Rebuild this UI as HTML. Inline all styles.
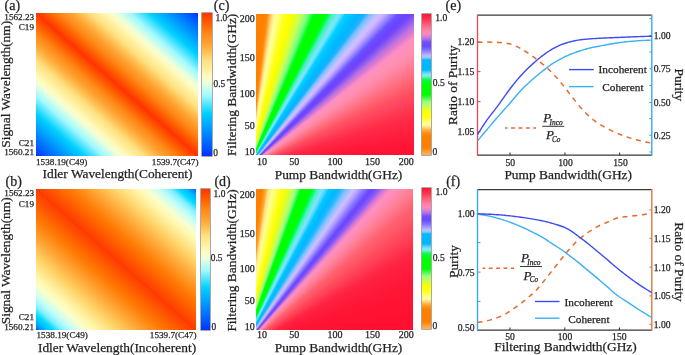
<!DOCTYPE html>
<html><head><meta charset="utf-8"><style>
html,body{margin:0;padding:0;background:#fff;}
body{width:685px;height:355px;overflow:hidden;position:relative;font-family:"Liberation Serif",serif;}
svg{position:absolute;left:0;top:0;}
svg text{font-family:"Liberation Serif",serif;fill:#231f20;stroke:#231f20;stroke-width:0.25px;}
svg{will-change:transform;}
</style></head><body>
<div style="position:absolute;left:36px;top:13px;width:162px;height:143px;background:linear-gradient(to top right, #0030ff 0.00%, #0050ff 2.50%, #0070ff 5.55%, #0090ff 8.65%, #00b0ff 11.75%, #00d0ff 15.00%, #50e4ff 18.00%, #a0f8ff 21.00%, #d0ffe8 24.00%, #f0ffd8 25.60%, #fffbc0 27.80%, #fff0a0 30.25%, #ffe080 33.50%, #ffbf50 36.50%, #ffa030 39.50%, #ff8a18 42.60%, #ff6000 46.30%, #ff3400 50.00%, #ff6000 53.70%, #ff8a18 57.40%, #ffa030 60.50%, #ffbf50 63.50%, #ffe080 66.50%, #fff0a0 69.75%, #fffbc0 72.20%, #f0ffd8 74.40%, #d0ffe8 76.00%, #a0f8ff 79.00%, #50e4ff 82.00%, #00d0ff 85.00%, #00b0ff 88.25%, #0090ff 91.35%, #0070ff 94.45%, #0050ff 97.50%, #0030ff 100.00%);"></div><div style="position:absolute;left:36px;top:189px;width:160px;height:140.5px;background:linear-gradient(to top right, #0050ff 0.00%, #0088ff 1.25%, #00b8ff 3.12%, #00dcff 5.62%, #80eeff 8.12%, #b0fbff 10.62%, #d0ffee 12.50%, #f8ffd0 15.62%, #fff8b0 18.75%, #ffe890 21.88%, #ffd870 25.00%, #ffc455 28.12%, #ffae40 31.25%, #ff9a28 34.38%, #ff8810 37.50%, #ff7a08 39.38%, #ff6a00 42.50%, #ff5500 45.62%, #ff4000 49.38%, #ff3800 50.00%, #ff4000 50.62%, #ff5500 54.38%, #ff6a00 57.50%, #ff7a08 60.62%, #ff8810 62.50%, #ff9a28 65.62%, #ffae40 68.75%, #ffc455 71.88%, #ffd870 75.00%, #ffe890 78.12%, #fff8b0 81.25%, #f8ffd0 84.38%, #d0ffee 87.50%, #b0fbff 89.38%, #80eeff 91.88%, #00dcff 94.38%, #00b8ff 96.88%, #0088ff 98.75%, #0050ff 100.00%);"></div><div style="position:absolute;left:202.4px;top:13.2px;width:9.3px;height:142.8px;background:linear-gradient(to bottom, #ff3400 0.0%, #ff6000 7.4%, #ff8a18 14.8%, #ffa030 21.0%, #ffbf50 27.0%, #ffe080 33.0%, #fff0a0 39.5%, #fffbc0 44.4%, #f0ffd8 48.8%, #d0ffe8 52.0%, #a0f8ff 58.0%, #50e4ff 64.0%, #00d0ff 70.0%, #00b0ff 76.5%, #0090ff 82.7%, #0070ff 88.9%, #0050ff 95.0%, #0030ff 100.0%);box-shadow:0 0 0 0.6px rgba(70,60,60,0.75);"></div><div style="position:absolute;left:200.7px;top:189.1px;width:9.0px;height:140.5px;background:linear-gradient(to bottom, #ff3400 0.0%, #ff6000 7.4%, #ff8a18 14.8%, #ffa030 21.0%, #ffbf50 27.0%, #ffe080 33.0%, #fff0a0 39.5%, #fffbc0 44.4%, #f0ffd8 48.8%, #d0ffe8 52.0%, #a0f8ff 58.0%, #50e4ff 64.0%, #00d0ff 70.0%, #00b0ff 76.5%, #0090ff 82.7%, #0070ff 88.9%, #0050ff 95.0%, #0030ff 100.0%);box-shadow:0 0 0 0.6px rgba(70,60,60,0.75);"></div><div style="position:absolute;left:256px;top:14px;width:158px;height:141px;background:conic-gradient(from 0deg at -7.2px 152.4px, #ff7f00 0deg, #ff8000 5.5deg, #ff8800 6.8deg, #ffa030 7.5deg, #ffc060 8.1deg, #ffe888 9.0deg, #ffff98 10.0deg, #ffff88 11.0deg, #ffff60 11.8deg, #ffff20 13.2deg, #ffff00 14.8deg, #f8ff00 16.0deg, #e0ff30 17.6deg, #c8ff50 18.9deg, #a0ff70 20.0deg, #80ff80 21.1deg, #40ff60 22.1deg, #10ff20 22.8deg, #00ff00 23.6deg, #00ff00 27.0deg, #00ff60 27.8deg, #40f0b0 28.6deg, #78e8f8 30.4deg, #70e0ff 31.2deg, #00d4ff 32.4deg, #00c0ff 34.0deg, #00b6ff 36.0deg, #20b0ff 37.4deg, #78c0ff 38.5deg, #a0c0ff 39.3deg, #c8c0ff 40.3deg, #d0bcff 41.1deg, #c0a8ff 42.0deg, #a088ff 42.9deg, #8070ff 43.7deg, #6a50ff 44.5deg, #6a48ff 45.5deg, #7040ff 46.3deg, #7848f8 47.1deg, #8858f4 47.9deg, #9c64ec 48.6deg, #c070e0 49.5deg, #d878d4 50.5deg, #f088c8 51.5deg, #ff8ec4 52.2deg, #ff90b8 53.5deg, #ff90b0 54.8deg, #ff88a8 56.7deg, #ff8098 58.0deg, #ff7890 59.3deg, #ff7080 60.6deg, #ff6070 63.1deg, #ff5060 65.4deg, #ff4460 67.9deg, #ff3a50 70deg, #ff2a48 73.3deg, #ff1838 80.8deg, #ff1030 86deg, #ff1030 360deg);"></div><div style="position:absolute;left:256px;top:189px;width:157px;height:140.5px;background:conic-gradient(from 0deg at -13.5px 159px, #ff8000 0deg, #ff8000 6.8deg, #ff9810 7.8deg, #ffb040 8.5deg, #ffe088 9.2deg, #ffff90 10.7deg, #ffff40 12.7deg, #ffff00 14.4deg, #f0ff10 15.5deg, #d0ff40 16.9deg, #b0ff70 18.2deg, #80ff80 19.0deg, #00ff20 20.1deg, #00ff00 20.6deg, #00ff00 23.6deg, #00ff80 24.5deg, #50f0c0 25.3deg, #80e4ff 26.8deg, #40d0ff 28.0deg, #00c8ff 28.6deg, #00b8ff 30.5deg, #20b8ff 31.8deg, #80c0ff 33.2deg, #d0c0ff 35.0deg, #b0a0ff 36.3deg, #8c78ff 37.4deg, #6a48ff 38.9deg, #7048ff 39.6deg, #9060f0 40.8deg, #c070e0 41.5deg, #e880cc 42.3deg, #ff90c0 43.2deg, #ff8cb8 44.2deg, #ff88a8 45.5deg, #ff8094 46.8deg, #ff7890 47.7deg, #ff6c7c 49.1deg, #ff6070 50.5deg, #ff5866 52.5deg, #ff4a5c 54.5deg, #ff4058 56.6deg, #ff2a45 60deg, #ff2040 62.5deg, #ff1535 70deg, #ff1030 80deg, #ff1030 360deg);"></div><div style="position:absolute;left:422.1px;top:14.1px;width:8.9px;height:141px;background:linear-gradient(to bottom, #ff1535 0.0%, #ff2040 1.4%, #ff3850 4.3%, #ff6080 7.8%, #ff80a0 11.3%, #ff88c0 13.5%, #e080d0 15.6%, #b070e8 17.7%, #7050ff 19.9%, #6a48ff 22.7%, #8070ff 25.5%, #a098ff 27.7%, #c0c0ff 29.8%, #80c8ff 31.2%, #00b8ff 32.6%, #00b8ff 39.7%, #40d0ff 41.1%, #80e0ff 42.6%, #80f0e0 44.0%, #40f0a0 45.4%, #00ff40 46.8%, #00ff00 50.4%, #00ff00 57.4%, #40ff40 59.6%, #a0ff80 62.4%, #d0ff40 66.7%, #ffff00 69.5%, #ffff20 73.8%, #ffff80 76.6%, #ffffa0 78.7%, #ffe080 80.1%, #ffb040 82.3%, #ff9010 84.4%, #ff8000 86.5%, #ff8000 95.0%, #ff9020 96.5%, #ffa040 97.9%, #ffb060 100.0%);box-shadow:0 0 0 0.6px rgba(70,60,60,0.75);"></div><div style="position:absolute;left:422.1px;top:187.5px;width:8.9px;height:141px;background:linear-gradient(to bottom, #ff1535 0.0%, #ff2040 1.4%, #ff3850 4.3%, #ff6080 7.8%, #ff80a0 11.3%, #ff88c0 13.5%, #e080d0 15.6%, #b070e8 17.7%, #7050ff 19.9%, #6a48ff 22.7%, #8070ff 25.5%, #a098ff 27.7%, #c0c0ff 29.8%, #80c8ff 31.2%, #00b8ff 32.6%, #00b8ff 39.7%, #40d0ff 41.1%, #80e0ff 42.6%, #80f0e0 44.0%, #40f0a0 45.4%, #00ff40 46.8%, #00ff00 50.4%, #00ff00 57.4%, #40ff40 59.6%, #a0ff80 62.4%, #d0ff40 66.7%, #ffff00 69.5%, #ffff20 73.8%, #ffff80 76.6%, #ffffa0 78.7%, #ffe080 80.1%, #ffb040 82.3%, #ff9010 84.4%, #ff8000 86.5%, #ff8000 95.0%, #ff9020 96.5%, #ffa040 97.9%, #ffb060 100.0%);box-shadow:0 0 0 0.6px rgba(70,60,60,0.75);"></div>
<svg width="685" height="355" viewBox="0 0 685 355" xmlns="http://www.w3.org/2000/svg">
<text transform="translate(4.6,9.6) scale(1,1.0)" font-size="14" text-anchor="start" >(a)</text>
<text transform="translate(5.6,185.5) scale(1,1.0)" font-size="14" text-anchor="start" >(b)</text>
<text transform="translate(213.8,9.5) scale(1,1.0)" font-size="14" text-anchor="start" >(c)</text>
<text transform="translate(214.4,185.5) scale(1,1.0)" font-size="14" text-anchor="start" >(d)</text>
<text transform="translate(445.6,10.3) scale(1,1.0)" font-size="14" text-anchor="start" >(e)</text>
<text transform="translate(446.2,185.7) scale(1,1.0)" font-size="14" text-anchor="start" >(f)</text>
<text transform="translate(34.2,20.0) scale(1,1.0)" font-size="9.2" text-anchor="end" >1562.23</text>
<text transform="translate(34.0,30.0) scale(1,1.0)" font-size="9.2" text-anchor="end" >C19</text>
<text transform="translate(34.0,145.5) scale(1,1.0)" font-size="9.2" text-anchor="end" >C21</text>
<text transform="translate(34.0,155.3) scale(1,1.0)" font-size="9.2" text-anchor="end" >1560.21</text>
<text transform="translate(36.0,165.3) scale(1,1.0)" font-size="9.2" text-anchor="start" >1538.19(C49)</text>
<text transform="translate(198.5,165.3) scale(1,1.0)" font-size="9.2" text-anchor="end" >1539.7(C47)</text>
<text transform="translate(117.5,178.4) scale(1,1.0)" font-size="13.4" text-anchor="middle" >Idler Wavelength(Coherent)</text>
<text transform="translate(9.8,84.3) rotate(-90)" font-size="13.4" text-anchor="middle">Signal Wavelength(nm)</text>
<text transform="translate(215.5,21.0) scale(1,1.0)" font-size="9.4" text-anchor="start" >1.0</text>
<text transform="translate(213.5,86.5) scale(1,1.0)" font-size="9.4" text-anchor="start" >0.5</text>
<text transform="translate(213.3,156.0) scale(1,1.0)" font-size="9.4" text-anchor="start" >0</text>
<text transform="translate(34.2,195.8) scale(1,1.0)" font-size="9.2" text-anchor="end" >1562.23</text>
<text transform="translate(34.0,206.5) scale(1,1.0)" font-size="9.2" text-anchor="end" >C19</text>
<text transform="translate(34.0,319.8) scale(1,1.0)" font-size="9.2" text-anchor="end" >C21</text>
<text transform="translate(34.0,330.4) scale(1,1.0)" font-size="9.2" text-anchor="end" >1560.21</text>
<text transform="translate(36.5,337.7) scale(1,1.0)" font-size="9.2" text-anchor="start" >1538.19(C49)</text>
<text transform="translate(196.5,337.7) scale(1,1.0)" font-size="9.2" text-anchor="end" >1539.7(C47)</text>
<text transform="translate(117,351.8) scale(1,1.0)" font-size="13.4" text-anchor="middle" >Idler Wavelength(Incoherent)</text>
<text transform="translate(9.8,260.8) rotate(-90)" font-size="13.4" text-anchor="middle">Signal Wavelength(nm)</text>
<text transform="translate(213.6,197.3) scale(1,1.0)" font-size="9.4" text-anchor="start" >1.0</text>
<text transform="translate(210.8,261.4) scale(1,1.0)" font-size="9.4" text-anchor="start" >0.5</text>
<text transform="translate(211.5,329.5) scale(1,1.0)" font-size="9.4" text-anchor="start" >0</text>
<text transform="translate(254.7,22.4) scale(1,1.0)" font-size="10" text-anchor="end" >200</text>
<text transform="translate(254.7,61.199999999999996) scale(1,1.0)" font-size="10" text-anchor="end" >150</text>
<text transform="translate(254.7,96.5) scale(1,1.0)" font-size="10" text-anchor="end" >100</text>
<text transform="translate(254.7,128.5) scale(1,1.0)" font-size="10" text-anchor="end" >50</text>
<text transform="translate(254.7,155.1) scale(1,1.0)" font-size="10" text-anchor="end" >10</text>
<text transform="translate(262,165.1) scale(1,1.0)" font-size="10" text-anchor="middle" >10</text>
<text transform="translate(294.2,165.1) scale(1,1.0)" font-size="10" text-anchor="middle" >50</text>
<text transform="translate(335,165.1) scale(1,1.0)" font-size="10" text-anchor="middle" >100</text>
<text transform="translate(372.5,165.1) scale(1,1.0)" font-size="10" text-anchor="middle" >150</text>
<text transform="translate(406.3,165.1) scale(1,1.0)" font-size="10" text-anchor="middle" >200</text>
<text transform="translate(338.5,179.3) scale(1,1.0)" font-size="13.4" text-anchor="middle" >Pump Bandwidth(GHz)</text>
<text transform="translate(236.0,84.9) rotate(-90)" font-size="13.4" text-anchor="middle">Filtering Bandwidth(GHz)</text>
<text transform="translate(254.7,197.9) scale(1,1.0)" font-size="10" text-anchor="end" >200</text>
<text transform="translate(254.7,236.9) scale(1,1.0)" font-size="10" text-anchor="end" >150</text>
<text transform="translate(254.7,272.4) scale(1,1.0)" font-size="10" text-anchor="end" >100</text>
<text transform="translate(254.7,304.09999999999997) scale(1,1.0)" font-size="10" text-anchor="end" >50</text>
<text transform="translate(254.7,330.09999999999997) scale(1,1.0)" font-size="10" text-anchor="end" >10</text>
<text transform="translate(262,338.4) scale(1,1.0)" font-size="10" text-anchor="middle" >10</text>
<text transform="translate(294.2,338.4) scale(1,1.0)" font-size="10" text-anchor="middle" >50</text>
<text transform="translate(335,338.4) scale(1,1.0)" font-size="10" text-anchor="middle" >100</text>
<text transform="translate(372.5,338.4) scale(1,1.0)" font-size="10" text-anchor="middle" >150</text>
<text transform="translate(406.3,338.4) scale(1,1.0)" font-size="10" text-anchor="middle" >200</text>
<text transform="translate(338.5,351.9) scale(1,1.0)" font-size="13.4" text-anchor="middle" >Pump Bandwidth(GHz)</text>
<text transform="translate(236.0,260.4) rotate(-90)" font-size="13.4" text-anchor="middle">Filtering Bandwidth(GHz)</text>
<text transform="translate(435.2,20.8) scale(1,1.0)" font-size="9.6" text-anchor="start" >1.0</text>
<text transform="translate(432.8,86.0) scale(1,1.0)" font-size="9.6" text-anchor="start" >0.5</text>
<text transform="translate(432.6,155.2) scale(1,1.0)" font-size="9.6" text-anchor="start" >0</text>
<text transform="translate(435.5,194.6) scale(1,1.0)" font-size="9.6" text-anchor="start" >1.0</text>
<text transform="translate(432.8,261.3) scale(1,1.0)" font-size="9.6" text-anchor="start" >0.5</text>
<text transform="translate(432.6,328.7) scale(1,1.0)" font-size="9.6" text-anchor="start" >0</text>
<line x1="477.5" y1="15.2" x2="651.8" y2="15.2" stroke="#383838" stroke-width="1.3"/>
<line x1="477.5" y1="155.2" x2="651.8" y2="155.2" stroke="#383838" stroke-width="1.3"/>
<line x1="510" y1="155.2" x2="510" y2="152.6" stroke="#383838" stroke-width="1.1"/>
<line x1="565" y1="155.2" x2="565" y2="152.6" stroke="#383838" stroke-width="1.1"/>
<line x1="619.6" y1="155.2" x2="619.6" y2="152.6" stroke="#383838" stroke-width="1.1"/>
<line x1="477.5" y1="14.6" x2="477.5" y2="155.79999999999998" stroke="#e5484f" stroke-width="1.3"/>
<line x1="477.5" y1="42.0" x2="480.5" y2="42.0" stroke="#e5484f" stroke-width="1.1"/>
<line x1="477.5" y1="71.6" x2="480.5" y2="71.6" stroke="#e5484f" stroke-width="1.1"/>
<line x1="477.5" y1="101.6" x2="480.5" y2="101.6" stroke="#e5484f" stroke-width="1.1"/>
<line x1="477.5" y1="131.8" x2="480.5" y2="131.8" stroke="#e5484f" stroke-width="1.1"/>
<line x1="651.8" y1="14.6" x2="651.8" y2="155.79999999999998" stroke="#35aaf3" stroke-width="1.4"/>
<line x1="651.8" y1="18.6" x2="649.3" y2="18.6" stroke="#35aaf3" stroke-width="1.1"/>
<line x1="651.8" y1="35.6" x2="649.3" y2="35.6" stroke="#35aaf3" stroke-width="1.1"/>
<line x1="651.8" y1="52.0" x2="649.3" y2="52.0" stroke="#35aaf3" stroke-width="1.1"/>
<line x1="651.8" y1="68.8" x2="649.3" y2="68.8" stroke="#35aaf3" stroke-width="1.1"/>
<line x1="651.8" y1="85.5" x2="649.3" y2="85.5" stroke="#35aaf3" stroke-width="1.1"/>
<line x1="651.8" y1="102.4" x2="649.3" y2="102.4" stroke="#35aaf3" stroke-width="1.1"/>
<line x1="651.8" y1="118.6" x2="649.3" y2="118.6" stroke="#35aaf3" stroke-width="1.1"/>
<line x1="651.8" y1="135.3" x2="649.3" y2="135.3" stroke="#35aaf3" stroke-width="1.1"/>
<line x1="651.8" y1="152.0" x2="649.3" y2="152.0" stroke="#35aaf3" stroke-width="1.1"/>
<text transform="translate(474.3,45.3) scale(1,1.0)" font-size="9.6" text-anchor="end" >1.20</text>
<text transform="translate(474.3,74.89999999999999) scale(1,1.0)" font-size="9.6" text-anchor="end" >1.15</text>
<text transform="translate(474.3,104.89999999999999) scale(1,1.0)" font-size="9.6" text-anchor="end" >1.10</text>
<text transform="translate(474.3,135.10000000000002) scale(1,1.0)" font-size="9.6" text-anchor="end" >1.05</text>
<text transform="translate(653.8,38.9) scale(1,1.0)" font-size="9.6" text-anchor="start" >1.00</text>
<text transform="translate(653.8,72.1) scale(1,1.0)" font-size="9.6" text-anchor="start" >0.75</text>
<text transform="translate(653.8,105.7) scale(1,1.0)" font-size="9.6" text-anchor="start" >0.50</text>
<text transform="translate(653.8,138.60000000000002) scale(1,1.0)" font-size="9.6" text-anchor="start" >0.25</text>
<text transform="translate(510.3,166.2) scale(1,1.0)" font-size="9.6" text-anchor="middle" >50</text>
<text transform="translate(565.5,166.2) scale(1,1.0)" font-size="9.6" text-anchor="middle" >100</text>
<text transform="translate(620.5,166.2) scale(1,1.0)" font-size="9.6" text-anchor="middle" >150</text>
<text transform="translate(568.2,179.4) scale(1,1.0)" font-size="13.4" text-anchor="middle" >Pump Bandwidth(GHz)</text>
<text transform="translate(456.6,85.2) rotate(-90)" font-size="13.4" text-anchor="middle">Ratio of Purity</text>
<text transform="translate(675.4,84.9) rotate(90)" font-size="13.4" text-anchor="middle">Purity</text>
<path d="M477.5,42.30 L479.0,42.24 L480.5,42.19 L482.0,42.16 L483.5,42.13 L485.0,42.11 L486.5,42.10 L488.0,42.10 L489.5,42.11 L491.0,42.14 L492.5,42.18 L494.0,42.24 L495.5,42.30 L497.0,42.36 L498.5,42.44 L500.0,42.53 L501.5,42.66 L503.0,42.81 L504.5,42.99 L506.0,43.20 L507.5,43.43 L509.0,43.70 L510.5,44.07 L512.0,44.56 L513.5,45.14 L515.0,45.77 L516.5,46.42 L518.0,47.11 L519.5,47.89 L521.0,48.75 L522.5,49.65 L524.0,50.58 L525.5,51.51 L527.0,52.47 L528.5,53.47 L530.0,54.49 L531.5,55.54 L533.0,56.62 L534.5,57.71 L536.0,58.84 L537.5,60.00 L539.0,61.18 L540.5,62.39 L542.0,63.63 L543.5,64.89 L545.0,66.18 L546.5,67.49 L548.0,68.84 L549.5,70.24 L551.0,71.70 L552.5,73.21 L554.0,74.79 L555.5,76.41 L557.0,78.09 L558.5,79.80 L560.0,81.56 L561.5,83.40 L563.0,85.30 L564.5,87.22 L566.0,89.13 L567.5,91.05 L569.0,92.99 L570.5,94.93 L572.0,96.85 L573.5,98.73 L575.0,100.63 L576.5,102.52 L578.0,104.39 L579.5,106.21 L581.0,107.95 L582.5,109.60 L584.0,111.18 L585.5,112.72 L587.0,114.22 L588.5,115.66 L590.0,117.04 L591.5,118.35 L593.0,119.58 L594.5,120.72 L596.0,121.80 L597.5,122.81 L599.0,123.78 L600.5,124.70 L602.0,125.59 L603.5,126.46 L605.0,127.30 L606.5,128.12 L608.0,128.92 L609.5,129.70 L611.0,130.45 L612.5,131.18 L614.0,131.88 L615.5,132.55 L617.0,133.20 L618.5,133.83 L620.0,134.44 L621.5,135.02 L623.0,135.59 L624.5,136.14 L626.0,136.66 L627.5,137.17 L629.0,137.65 L630.5,138.12 L632.0,138.56 L633.5,139.00 L635.0,139.41 L636.5,139.82 L638.0,140.20 L639.5,140.57 L641.0,140.93 L642.5,141.28 L644.0,141.63 L645.5,141.96 L647.0,142.27 L648.5,142.58 L650.0,142.87 L651.5,143.15 L651.8,143.20" fill="none" stroke="#e8692d" stroke-width="1.5" stroke-dasharray="5 4.7"/>
<path d="M477.5,140.90 L479.0,139.11 L480.5,137.33 L482.0,135.54 L483.5,133.76 L485.0,131.98 L486.5,130.19 L488.0,128.41 L489.5,126.62 L491.0,124.84 L492.5,123.06 L494.0,121.30 L495.5,119.56 L497.0,117.83 L498.5,116.11 L500.0,114.40 L501.5,112.69 L503.0,110.99 L504.5,109.29 L506.0,107.60 L507.5,105.91 L509.0,104.21 L510.5,102.50 L512.0,100.79 L513.5,99.05 L515.0,97.26 L516.5,95.46 L518.0,93.67 L519.5,91.94 L521.0,90.30 L522.5,88.76 L524.0,87.26 L525.5,85.81 L527.0,84.39 L528.5,83.01 L530.0,81.65 L531.5,80.32 L533.0,79.00 L534.5,77.69 L536.0,76.42 L537.5,75.18 L539.0,73.95 L540.5,72.75 L542.0,71.56 L543.5,70.37 L545.0,69.17 L546.5,67.99 L548.0,66.84 L549.5,65.74 L551.0,64.70 L552.5,63.71 L554.0,62.77 L555.5,61.86 L557.0,60.98 L558.5,60.13 L560.0,59.31 L561.5,58.50 L563.0,57.71 L564.5,56.96 L566.0,56.23 L567.5,55.54 L569.0,54.89 L570.5,54.27 L572.0,53.68 L573.5,53.11 L575.0,52.56 L576.5,52.03 L578.0,51.52 L579.5,51.02 L581.0,50.55 L582.5,50.09 L584.0,49.65 L585.5,49.21 L587.0,48.78 L588.5,48.37 L590.0,47.97 L591.5,47.61 L593.0,47.29 L594.5,46.99 L596.0,46.72 L597.5,46.45 L599.0,46.19 L600.5,45.91 L602.0,45.62 L603.5,45.32 L605.0,45.03 L606.5,44.75 L608.0,44.47 L609.5,44.21 L611.0,43.95 L612.5,43.69 L614.0,43.45 L615.5,43.21 L617.0,42.99 L618.5,42.77 L620.0,42.56 L621.5,42.36 L623.0,42.17 L624.5,41.99 L626.0,41.82 L627.5,41.67 L629.0,41.52 L630.5,41.38 L632.0,41.25 L633.5,41.12 L635.0,41.00 L636.5,40.88 L638.0,40.77 L639.5,40.66 L641.0,40.57 L642.5,40.48 L644.0,40.41 L645.5,40.33 L647.0,40.27 L648.5,40.21 L650.0,40.15 L651.5,40.11 L651.8,40.10" fill="none" stroke="#38b2f4" stroke-width="1.4"/>
<path d="M477.5,134.60 L479.0,132.16 L480.5,129.76 L482.0,127.42 L483.5,125.13 L485.0,122.89 L486.5,120.71 L488.0,118.61 L489.5,116.59 L491.0,114.63 L492.5,112.72 L494.0,110.82 L495.5,108.90 L497.0,106.94 L498.5,104.92 L500.0,102.83 L501.5,100.69 L503.0,98.54 L504.5,96.40 L506.0,94.30 L507.5,92.26 L509.0,90.25 L510.5,88.26 L512.0,86.30 L513.5,84.37 L515.0,82.50 L516.5,80.67 L518.0,78.91 L519.5,77.20 L521.0,75.54 L522.5,73.92 L524.0,72.34 L525.5,70.80 L527.0,69.29 L528.5,67.81 L530.0,66.38 L531.5,64.98 L533.0,63.61 L534.5,62.29 L536.0,60.99 L537.5,59.73 L539.0,58.51 L540.5,57.31 L542.0,56.15 L543.5,55.01 L545.0,53.89 L546.5,52.80 L548.0,51.74 L549.5,50.75 L551.0,49.82 L552.5,48.94 L554.0,48.10 L555.5,47.31 L557.0,46.56 L558.5,45.86 L560.0,45.22 L561.5,44.61 L563.0,44.03 L564.5,43.49 L566.0,42.99 L567.5,42.53 L569.0,42.11 L570.5,41.71 L572.0,41.34 L573.5,40.99 L575.0,40.69 L576.5,40.41 L578.0,40.16 L579.5,39.92 L581.0,39.71 L582.5,39.52 L584.0,39.35 L585.5,39.21 L587.0,39.08 L588.5,38.97 L590.0,38.86 L591.5,38.76 L593.0,38.67 L594.5,38.58 L596.0,38.49 L597.5,38.40 L599.0,38.31 L600.5,38.23 L602.0,38.15 L603.5,38.07 L605.0,38.00 L606.5,37.93 L608.0,37.87 L609.5,37.80 L611.0,37.74 L612.5,37.68 L614.0,37.62 L615.5,37.56 L617.0,37.50 L618.5,37.44 L620.0,37.37 L621.5,37.31 L623.0,37.25 L624.5,37.18 L626.0,37.12 L627.5,37.06 L629.0,37.00 L630.5,36.93 L632.0,36.88 L633.5,36.82 L635.0,36.76 L636.5,36.71 L638.0,36.65 L639.5,36.60 L641.0,36.55 L642.5,36.50 L644.0,36.45 L645.5,36.40 L647.0,36.35 L648.5,36.30 L650.0,36.25 L651.5,36.21 L651.8,36.20" fill="none" stroke="#3d4cf2" stroke-width="1.4"/>
<line x1="569" y1="69.6" x2="593.7" y2="69.6" stroke="#3d4cf2" stroke-width="1.4"/>
<line x1="569" y1="86.6" x2="593.7" y2="86.6" stroke="#38b2f4" stroke-width="1.4"/>
<text transform="translate(598.6,73.3) scale(1,1.0)" font-size="11.3" text-anchor="start" >Incoherent</text>
<text transform="translate(602.2,90.8) scale(1,1.0)" font-size="11.3" text-anchor="start" >Coherent</text>
<line x1="505" y1="128" x2="536" y2="128" stroke="#e8692d" stroke-width="1.4" stroke-dasharray="3.9 3.5" stroke-dashoffset="1.3"/>
<line x1="542.3" y1="126.3" x2="564.3" y2="126.3" stroke="#231f20" stroke-width="0.9"/><text x="543.1999999999999" y="122.1" font-size="13" font-style="italic">P<tspan font-size="7.4" dx="-1.6" dy="2.7">Inco</tspan></text><text x="545.9" y="139.4" font-size="13" font-style="italic">P<tspan font-size="7.2" dx="-1.8" dy="2.4">Co</tspan></text>
<line x1="477.5" y1="189.7" x2="651.8" y2="189.7" stroke="#383838" stroke-width="1.3"/>
<line x1="477.5" y1="330.1" x2="651.8" y2="330.1" stroke="#383838" stroke-width="1.3"/>
<line x1="510" y1="330.1" x2="510" y2="327.5" stroke="#383838" stroke-width="1.1"/>
<line x1="564.8" y1="330.1" x2="564.8" y2="327.5" stroke="#383838" stroke-width="1.1"/>
<line x1="619.4" y1="330.1" x2="619.4" y2="327.5" stroke="#383838" stroke-width="1.1"/>
<line x1="477.5" y1="189.1" x2="477.5" y2="330.70000000000005" stroke="#35aaf3" stroke-width="1.4"/>
<line x1="477.5" y1="214.1" x2="480.5" y2="214.1" stroke="#35aaf3" stroke-width="1.1"/>
<line x1="477.5" y1="242.6" x2="480.5" y2="242.6" stroke="#35aaf3" stroke-width="1.1"/>
<line x1="477.5" y1="272.1" x2="480.5" y2="272.1" stroke="#35aaf3" stroke-width="1.1"/>
<line x1="477.5" y1="301.4" x2="480.5" y2="301.4" stroke="#35aaf3" stroke-width="1.1"/>
<line x1="651.8" y1="189.1" x2="651.8" y2="330.70000000000005" stroke="#d97a42" stroke-width="1.4"/>
<line x1="651.8" y1="209.9" x2="649.3" y2="209.9" stroke="#d97a42" stroke-width="1.1"/>
<line x1="651.8" y1="238.3" x2="649.3" y2="238.3" stroke="#d97a42" stroke-width="1.1"/>
<line x1="651.8" y1="267.2" x2="649.3" y2="267.2" stroke="#d97a42" stroke-width="1.1"/>
<line x1="651.8" y1="295.9" x2="649.3" y2="295.9" stroke="#d97a42" stroke-width="1.1"/>
<line x1="651.8" y1="324.3" x2="649.3" y2="324.3" stroke="#d97a42" stroke-width="1.1"/>
<text transform="translate(474.6,217.4) scale(1,1.0)" font-size="9.6" text-anchor="end" >1.00</text>
<text transform="translate(474.6,275.6) scale(1,1.0)" font-size="9.6" text-anchor="end" >0.75</text>
<text transform="translate(474.6,331.2) scale(1,1.0)" font-size="9.6" text-anchor="end" >0.50</text>
<text transform="translate(653.8,213.20000000000002) scale(1,1.0)" font-size="9.6" text-anchor="start" >1.20</text>
<text transform="translate(653.8,242.0) scale(1,1.0)" font-size="9.6" text-anchor="start" >1.15</text>
<text transform="translate(653.8,270.6) scale(1,1.0)" font-size="9.6" text-anchor="start" >1.10</text>
<text transform="translate(653.8,299.2) scale(1,1.0)" font-size="9.6" text-anchor="start" >1.05</text>
<text transform="translate(653.8,327.5) scale(1,1.0)" font-size="9.6" text-anchor="start" >1.00</text>
<text transform="translate(510,340.2) scale(1,1.0)" font-size="9.6" text-anchor="middle" >50</text>
<text transform="translate(565,340.2) scale(1,1.0)" font-size="9.6" text-anchor="middle" >100</text>
<text transform="translate(619.3,340.2) scale(1,1.0)" font-size="9.6" text-anchor="middle" >150</text>
<text transform="translate(565.5,351.4) scale(1,1.0)" font-size="13.4" text-anchor="middle" >Filtering Bandwidth(GHz)</text>
<text transform="translate(457.6,261.5) rotate(-90)" font-size="13.4" text-anchor="middle">Purity</text>
<text transform="translate(675.4,262) rotate(90)" font-size="13.4" text-anchor="middle">Ratio of Purity</text>
<path d="M477.6,322.60 L479.1,322.34 L480.6,322.07 L482.1,321.78 L483.6,321.48 L485.1,321.17 L486.6,320.85 L488.1,320.50 L489.6,320.13 L491.1,319.72 L492.6,319.27 L494.1,318.78 L495.6,318.25 L497.1,317.70 L498.6,317.12 L500.1,316.50 L501.6,315.84 L503.1,315.14 L504.6,314.39 L506.1,313.57 L507.6,312.69 L509.1,311.75 L510.6,310.79 L512.1,309.81 L513.6,308.79 L515.1,307.73 L516.6,306.65 L518.1,305.55 L519.6,304.43 L521.1,303.28 L522.6,302.12 L524.1,300.92 L525.6,299.70 L527.1,298.45 L528.6,297.19 L530.1,295.91 L531.6,294.59 L533.1,293.23 L534.6,291.80 L536.1,290.28 L537.6,288.66 L539.1,286.93 L540.6,285.15 L542.1,283.33 L543.6,281.51 L545.1,279.65 L546.6,277.74 L548.1,275.82 L549.6,273.88 L551.1,271.97 L552.6,270.08 L554.1,268.20 L555.6,266.31 L557.1,264.42 L558.6,262.53 L560.1,260.61 L561.6,258.69 L563.1,256.77 L564.6,254.85 L566.1,252.96 L567.6,251.19 L569.1,249.49 L570.6,247.82 L572.1,246.13 L573.6,244.46 L575.1,242.90 L576.6,241.48 L578.1,240.14 L579.6,238.86 L581.1,237.61 L582.6,236.40 L584.1,235.23 L585.6,234.11 L587.1,233.03 L588.6,232.00 L590.1,231.01 L591.6,230.05 L593.1,229.14 L594.6,228.26 L596.1,227.40 L597.6,226.57 L599.1,225.77 L600.6,225.02 L602.1,224.31 L603.6,223.66 L605.1,223.07 L606.6,222.49 L608.1,221.92 L609.6,221.33 L611.1,220.69 L612.6,219.94 L614.1,219.17 L615.6,218.49 L617.1,218.00 L618.6,217.68 L620.1,217.42 L621.6,217.20 L623.1,217.00 L624.6,216.81 L626.1,216.64 L627.6,216.49 L629.1,216.35 L630.6,216.20 L632.1,216.03 L633.6,215.86 L635.1,215.67 L636.6,215.48 L638.1,215.27 L639.6,215.07 L641.1,214.86 L642.6,214.64 L644.1,214.42 L645.6,214.19 L647.1,213.96 L648.6,213.72 L650.1,213.48 L651.6,213.23 L651.8,213.20" fill="none" stroke="#e8692d" stroke-width="1.5" stroke-dasharray="5 4.7"/>
<path d="M477.5,214.00 L479.0,214.21 L480.5,214.44 L482.0,214.69 L483.5,214.95 L485.0,215.23 L486.5,215.52 L488.0,215.84 L489.5,216.18 L491.0,216.53 L492.5,216.90 L494.0,217.28 L495.5,217.66 L497.0,218.06 L498.5,218.47 L500.0,218.90 L501.5,219.35 L503.0,219.83 L504.5,220.32 L506.0,220.84 L507.5,221.37 L509.0,221.91 L510.5,222.46 L512.0,223.02 L513.5,223.59 L515.0,224.18 L516.5,224.78 L518.0,225.40 L519.5,226.03 L521.0,226.67 L522.5,227.33 L524.0,228.01 L525.5,228.69 L527.0,229.39 L528.5,230.11 L530.0,230.85 L531.5,231.60 L533.0,232.37 L534.5,233.14 L536.0,233.92 L537.5,234.69 L539.0,235.48 L540.5,236.28 L542.0,237.11 L543.5,237.98 L545.0,238.92 L546.5,239.92 L548.0,240.95 L549.5,241.97 L551.0,242.95 L552.5,243.90 L554.0,244.85 L555.5,245.80 L557.0,246.77 L558.5,247.75 L560.0,248.74 L561.5,249.74 L563.0,250.77 L564.5,251.83 L566.0,252.95 L567.5,254.09 L569.0,255.22 L570.5,256.34 L572.0,257.46 L573.5,258.60 L575.0,259.77 L576.5,260.95 L578.0,262.16 L579.5,263.39 L581.0,264.64 L582.5,265.90 L584.0,267.16 L585.5,268.42 L587.0,269.66 L588.5,270.90 L590.0,272.14 L591.5,273.38 L593.0,274.63 L594.5,275.88 L596.0,277.14 L597.5,278.40 L599.0,279.66 L600.5,280.93 L602.0,282.20 L603.5,283.48 L605.0,284.76 L606.5,286.04 L608.0,287.37 L609.5,288.72 L611.0,290.07 L612.5,291.42 L614.0,292.72 L615.5,293.96 L616.7,294.90 L617.0,295.13 L618.5,296.21 L620.0,297.25 L621.5,298.24 L623.0,299.22 L624.5,300.18 L626.0,301.15 L627.5,302.13 L629.0,303.13 L630.5,304.13 L632.0,305.13 L633.5,306.13 L635.0,307.12 L636.5,308.10 L638.0,309.06 L639.5,310.02 L641.0,310.97 L642.5,311.91 L644.0,312.85 L645.5,313.78 L647.0,314.70 L648.5,315.62 L650.0,316.52 L651.5,317.42 L651.8,317.60" fill="none" stroke="#38b2f4" stroke-width="1.4"/>
<path d="M477.5,213.90 L479.0,213.92 L480.5,213.95 L482.0,213.99 L483.5,214.03 L485.0,214.07 L486.5,214.12 L488.0,214.18 L489.5,214.25 L491.0,214.32 L492.5,214.41 L494.0,214.50 L495.5,214.59 L497.0,214.69 L498.5,214.79 L500.0,214.91 L501.5,215.03 L503.0,215.16 L504.5,215.30 L506.0,215.44 L507.5,215.59 L509.0,215.75 L510.5,215.91 L512.0,216.09 L513.5,216.27 L515.0,216.45 L516.5,216.64 L518.0,216.83 L519.5,217.04 L521.0,217.25 L522.5,217.46 L524.0,217.68 L525.5,217.90 L527.0,218.13 L528.5,218.36 L530.0,218.60 L531.5,218.85 L533.0,219.10 L534.5,219.35 L536.0,219.62 L537.5,219.89 L539.0,220.17 L540.5,220.46 L542.0,220.77 L543.5,221.09 L545.0,221.43 L546.5,221.80 L548.0,222.19 L549.5,222.59 L551.0,223.00 L552.5,223.42 L554.0,223.86 L555.5,224.31 L557.0,224.78 L558.5,225.26 L560.0,225.75 L561.5,226.25 L563.0,226.78 L564.5,227.37 L566.0,228.03 L567.5,228.81 L569.0,229.68 L570.5,230.63 L572.0,231.60 L573.5,232.62 L575.0,233.71 L576.5,234.85 L578.0,236.01 L579.5,237.15 L581.0,238.27 L582.5,239.39 L584.0,240.52 L585.5,241.67 L587.0,242.86 L588.5,244.07 L590.0,245.31 L591.5,246.57 L593.0,247.83 L594.5,249.08 L596.0,250.33 L597.5,251.57 L599.0,252.81 L600.5,254.04 L602.0,255.28 L603.5,256.52 L605.0,257.78 L606.5,259.04 L608.0,260.32 L609.5,261.62 L611.0,262.93 L612.5,264.24 L614.0,265.53 L615.5,266.81 L616.7,267.80 L617.0,268.05 L618.5,269.26 L620.0,270.46 L621.5,271.65 L623.0,272.81 L624.5,273.97 L626.0,275.12 L627.5,276.25 L629.0,277.38 L630.5,278.50 L632.0,279.61 L633.5,280.70 L635.0,281.78 L636.5,282.84 L638.0,283.87 L639.5,284.88 L641.0,285.88 L642.5,286.86 L644.0,287.83 L645.5,288.78 L647.0,289.72 L648.5,290.64 L650.0,291.54 L651.5,292.43 L651.8,292.60" fill="none" stroke="#3d4cf2" stroke-width="1.4"/>
<line x1="535" y1="301.5" x2="559.5" y2="301.5" stroke="#3d4cf2" stroke-width="1.4"/>
<line x1="535" y1="318.2" x2="559.5" y2="318.2" stroke="#38b2f4" stroke-width="1.4"/>
<text transform="translate(564.6,305.5) scale(1,1.0)" font-size="11.3" text-anchor="start" >Incoherent</text>
<text transform="translate(568.2,323.0) scale(1,1.0)" font-size="11.3" text-anchor="start" >Coherent</text>
<line x1="482.6" y1="268.2" x2="514" y2="268.2" stroke="#e8692d" stroke-width="1.4" stroke-dasharray="3.9 3.5" stroke-dashoffset="1.3"/>
<line x1="520" y1="266.5" x2="542" y2="266.5" stroke="#231f20" stroke-width="0.9"/><text x="520.9" y="262.3" font-size="13" font-style="italic">P<tspan font-size="7.4" dx="-1.6" dy="2.7">Inco</tspan></text><text x="523.6" y="279.6" font-size="13" font-style="italic">P<tspan font-size="7.2" dx="-1.8" dy="2.4">Co</tspan></text>
</svg>
</body></html>
